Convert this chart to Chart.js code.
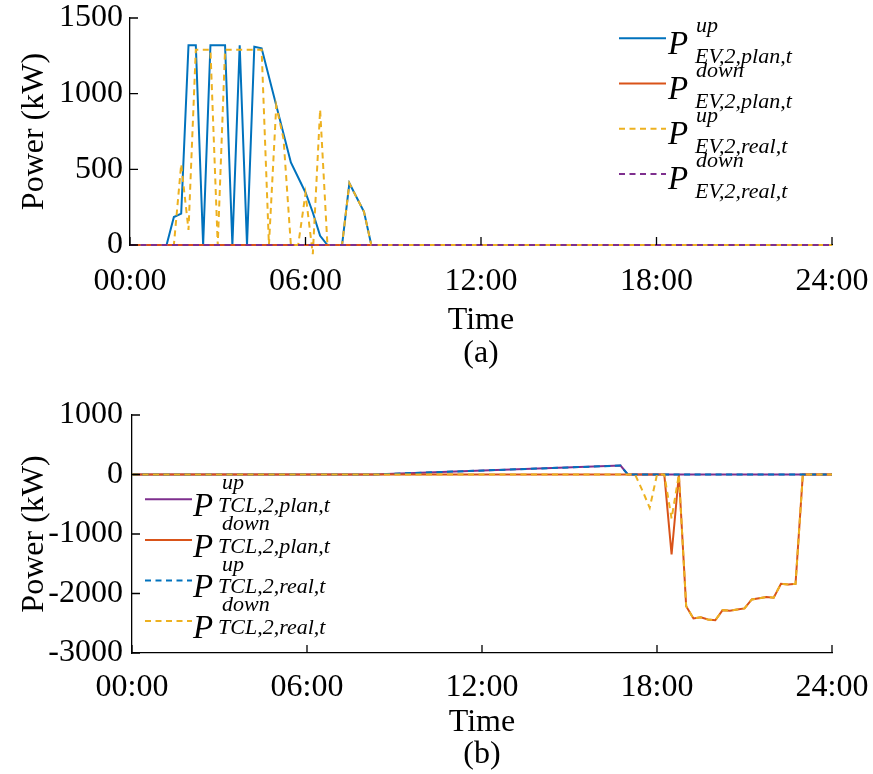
<!DOCTYPE html>
<html><head><meta charset="utf-8">
<script src="https://cdn.jsdelivr.net/npm/chart.js@4.4.1/dist/chart.umd.min.js"></script>
<style>
html,body{margin:0;padding:0;background:#fff;}
#wrap{position:relative;width:873px;height:774px;overflow:hidden;}
canvas{position:absolute;left:0;}
</style></head>
<body>
<div id="wrap">
<canvas id="c1" width="873" height="387" style="top:0;width:873px;height:387px"></canvas>
<canvas id="c2" width="873" height="387" style="top:387px;width:873px;height:387px"></canvas>
</div>
<script>
// ---------- data (time in hours, value in kW) ----------
const xTickLabels = ['00:00', '06:00', '12:00', '18:00', '24:00'];
const yTicksA = [0, 500, 1000, 1500];
const yTicksB = [-3000, -2000, -1000, 0, 1000];

// (a) EV
const evUpPlanT  = [0, 1.25, 1.5, 1.75, 2.0, 2.25, 2.5, 2.75, 3.25, 3.5, 3.75, 4.0, 4.25, 4.5, 5.5, 6.0, 6.25, 6.5, 6.75, 7.25, 7.5, 8.0, 8.25, 24];
const evUpPlanV  = [0, 0, 185, 207, 1320, 1320, 0, 1320, 1320, 0, 1320, 0, 1310, 1300, 545, 347, 215, 61, 0, 0, 408, 219, 0, 0];
const evDownPlanT = [0, 24];
const evDownPlanV = [0, 0];
const evUpRealT  = [0, 1.5, 1.75, 2.0, 2.25, 2.75, 3.0, 3.25, 4.5, 4.75, 5.0, 5.25, 5.5, 5.75, 6.0, 6.25, 6.5, 6.75, 7.25, 7.5, 8.0, 8.25, 24];
const evUpRealV  = [0, 0, 533, 100, 1290, 1290, 0, 1290, 1290, 0, 920, 700, 0, 0, 340, -60, 895, 0, 0, 408, 219, 0, 0];
const evDownRealT = [0, 24];
const evDownRealV = [0, 0];

// (b) TCL
const tclUpPlanT = [0, 8.25, 16.75, 17.0, 24];
const tclUpPlanV = [0, 0, 150, 0, 0];
const tclDownPlanT = [0, 18.25, 18.5, 18.75, 19.0, 19.25, 19.5, 19.75, 20.0, 20.25, 20.5, 20.75, 21.0, 21.25, 21.5, 21.75, 22.0, 22.25, 22.5, 22.75, 23.0, 24];
const tclDownPlanV = [0, 0, -1345, 0, -2213, -2420, -2400, -2437, -2450, -2280, -2290, -2270, -2250, -2100, -2080, -2060, -2070, -1837, -1850, -1837, 0, 0];
const tclUpRealT = [0, 8.25, 16.75, 17.0, 24];
const tclUpRealV = [0, 0, 150, 0, 0];
const tclDownRealT = [0, 17.25, 17.5, 17.75, 18.0, 18.25, 18.5, 18.75, 19.0, 19.25, 19.5, 19.75, 20.0, 20.25, 20.5, 20.75, 21.0, 21.25, 21.5, 21.75, 22.0, 22.25, 22.5, 22.75, 23.0, 24];
const tclDownRealV = [0, 0, -270, -560, 0, 0, -740, 0, -2213, -2420, -2400, -2437, -2450, -2280, -2290, -2270, -2250, -2100, -2080, -2060, -2070, -1837, -1850, -1837, 0, 0];

// legend texts
const legendA = [
  {sup: 'up',   sub: 'EV,2,plan,t'},
  {sup: 'down', sub: 'EV,2,plan,t'},
  {sup: 'up',   sub: 'EV,2,real,t'},
  {sup: 'down', sub: 'EV,2,real,t'}
];
const legendB = [
  {sup: 'up',   sub: 'TCL,2,plan,t'},
  {sup: 'down', sub: 'TCL,2,plan,t'},
  {sup: 'up',   sub: 'TCL,2,real,t'},
  {sup: 'down', sub: 'TCL,2,real,t'}
];

// ---------- styling ----------
const C_BLUE = '#0072BD', C_RED = '#D95319', C_YEL = '#EDB120', C_PUR = '#7E2F8E';
const FONT = '"Liberation Serif", "Times New Roman", serif';
const DASH = [6, 4.5];
const FS = 32;
Chart.defaults.font.family = FONT;
Chart.defaults.color = '#000';

function pts(t, v) { return t.map((x, i) => ({x: x, y: v[i]})); }

function ds(t, v, color, dashed, order, clip) {
  return {
    data: pts(t, v), borderColor: color, backgroundColor: color,
    borderWidth: 2, borderDash: dashed ? DASH : [], pointRadius: 0,
    tension: 0, fill: false, order: order, clip: clip === undefined ? 3 : clip
  };
}

const tickPlugin = {
  id: 'inwardTicks',
  afterDraw(chart) {
    const ctx = chart.ctx, a = chart.chartArea;
    const xs = chart.scales.x, ys = chart.scales.y;
    ctx.save();
    ctx.strokeStyle = '#000'; ctx.lineWidth = 1.3; ctx.setLineDash([]);
    ctx.beginPath();
    xs.ticks.forEach(t => { const p = xs.getPixelForValue(t.value); ctx.moveTo(p, a.bottom); ctx.lineTo(p, a.bottom - 8); });
    ys.ticks.forEach(t => { const p = ys.getPixelForValue(t.value); ctx.moveTo(a.left, p); ctx.lineTo(a.left + 8, p); });
    ctx.stroke();
    // legend
    const lg = chart.options.plugins.texLegend;
    chart.data.datasets.forEach((d, i) => {
      const L = lg.y0 + i * lg.dy;
      ctx.strokeStyle = d.borderColor; ctx.lineWidth = 2;
      ctx.setLineDash(d.borderDash || []);
      ctx.beginPath(); ctx.moveTo(lg.lx0, L); ctx.lineTo(lg.lx1, L); ctx.stroke();
      ctx.setLineDash([]);
      ctx.fillStyle = '#000'; ctx.textBaseline = 'alphabetic'; ctx.textAlign = 'left';
      ctx.font = 'italic 33px ' + FONT;
      ctx.fillText('P', lg.px, L + lg.pBase);
      ctx.font = 'italic 22px ' + FONT;
      ctx.fillText(lg.items[i].sup, lg.supX, L + lg.supBase);
      ctx.fillText(lg.items[i].sub, lg.subX, L + lg.subBase);
    });
    ctx.restore();
  }
};

function makeChart(id, datasets, o) {
  return new Chart(document.getElementById(id), {
    type: 'line',
    data: {datasets: datasets},
    plugins: [tickPlugin],
    options: {
      responsive: false, animation: false, devicePixelRatio: 1,
      layout: {padding: {top: o.padTop, right: 41, bottom: 0, left: 0}},
      plugins: {legend: {display: false}, tooltip: {enabled: false}, texLegend: o.legend},
      scales: {
        x: {
          type: 'linear', min: 0, max: 24,
          afterFit: s => { s.height = o.xHeight; s.paddingLeft = 0; s.paddingRight = 0; },
          afterBuildTicks: s => { s.ticks = [0, 6, 12, 18, 24].map(v => ({value: v})); },
          ticks: {autoSkip: false, maxRotation: 0, padding: o.xTickPad, font: {size: FS},
                  callback: v => xTickLabels[Math.round(v / 6)]},
          grid: {drawOnChartArea: false, drawTicks: false},
          border: {display: true, color: '#000', width: 1.3},
          title: {display: true, text: ['Time', o.label], font: {size: FS, lineHeight: o.xTitleLH},
                  padding: {top: 0, bottom: o.xTitlePad}}
        },
        y: {
          min: o.yTicks[0], max: o.yTicks[o.yTicks.length - 1],
          afterFit: s => { s.width = o.yWidth; s.paddingTop = 0; s.paddingBottom = 0; },
          afterBuildTicks: s => { s.ticks = o.yTicks.map(v => ({value: v})); },
          ticks: {padding: o.yTickPad, font: {size: FS}, callback: v => String(v)},
          grid: {drawOnChartArea: false, drawTicks: false},
          border: {display: true, color: '#000', width: 1.3},
          title: {display: true, text: 'Power (kW)', font: {size: FS, lineHeight: 1.1},
                  padding: {top: 17, bottom: 0}}
        }
      }
    }
  });
}

makeChart('c1', [
  ds(evUpPlanT, evUpPlanV, C_BLUE, false, 4),
  ds(evDownPlanT, evDownPlanV, C_RED, false, 3),
  ds(evUpRealT, evUpRealV, C_YEL, true, 2, false),
  ds(evDownRealT, evDownRealV, C_PUR, true, 1)
], {
  padTop: 18, xHeight: 142, yWidth: 130, xTickPad: 17, yTickPad: 7, xTitlePad: 16, xTitleLH: 1.06,
  label: '(a)', yTicks: yTicksA,
  legend: {items: legendA, y0: 38.3, dy: 45.2, lx0: 619, lx1: 666, px: 668,
           supX: 696, subX: 695, pBase: 15.5, supBase: -6.6, subBase: 24.4}
});

makeChart('c2', [
  ds(tclUpPlanT, tclUpPlanV, C_PUR, false, 4),
  ds(tclDownPlanT, tclDownPlanV, C_RED, false, 3),
  ds(tclUpRealT, tclUpRealV, C_BLUE, true, 2),
  ds(tclDownRealT, tclDownRealV, C_YEL, true, 1)
], {
  padTop: 28, xHeight: 121, yWidth: 132, xTickPad: 15, yTickPad: 9, xTitlePad: 4, xTitleLH: 0.98,
  label: '(b)', yTicks: yTicksB,
  legend: {items: legendB, y0: 112.3, dy: 40.6, lx0: 145, lx1: 192, px: 193,
           supX: 222, subX: 218, pBase: 16.8, supBase: -10, subBase: 12.6}
});
</script>
</body></html>
